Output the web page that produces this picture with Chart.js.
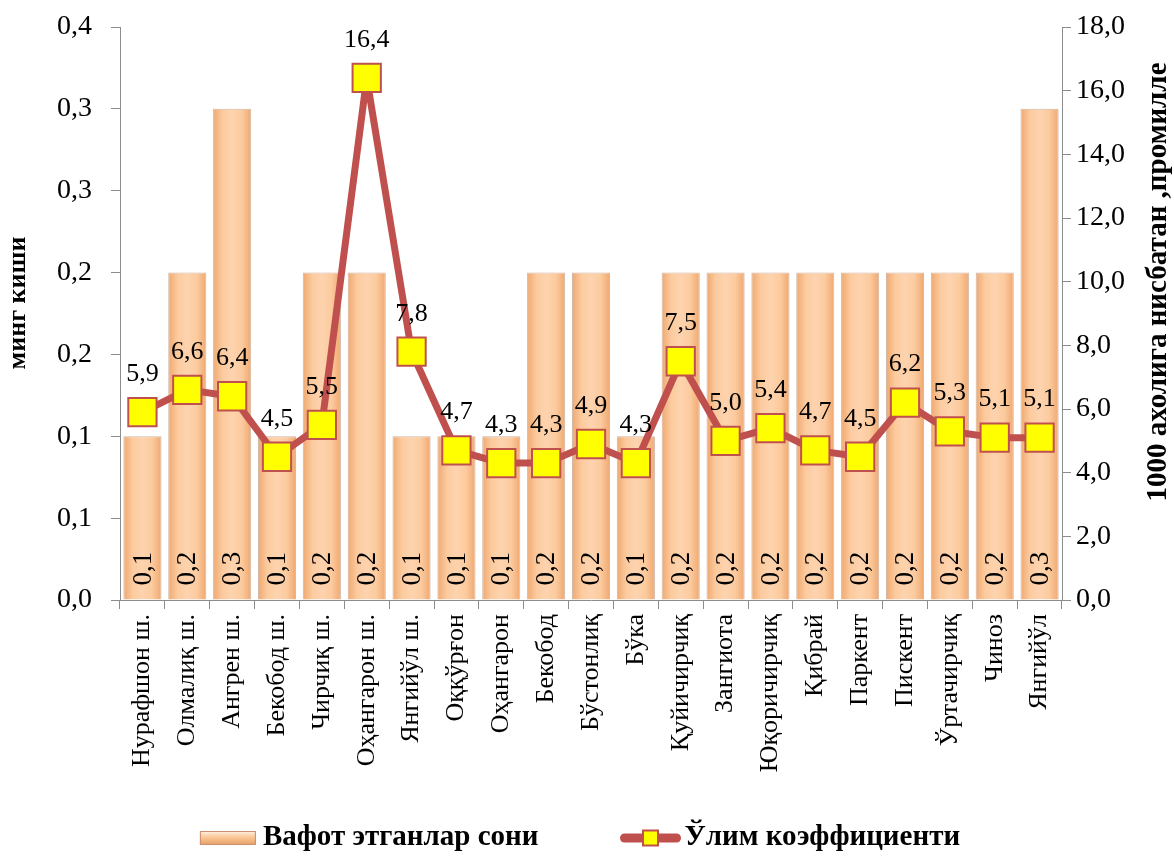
<!DOCTYPE html>
<html>
<head>
<meta charset="utf-8">
<script src="https://cdn.jsdelivr.net/npm/chart.js@4.4.1/dist/chart.umd.min.js"></script>
<style>
  html, body { margin: 0; background: #fff; }
  #wrap { width: 1174px; height: 858px; }
</style>
</head>
<body>
<div id="wrap"><canvas id="chart"></canvas></div>
<script>
const districts = [
  'Нурафшон ш.', 'Олмалиқ ш.', 'Ангрен ш.', 'Бекобод ш.', 'Чирчиқ ш.',
  'Оҳангарон ш.', 'Янгийўл ш.', 'Оққўрғон', 'Оҳангарон', 'Бекобод',
  'Бўстонлиқ', 'Бўка', 'Қуйичирчиқ', 'Зангиота', 'Юқоричирчиқ',
  'Қибрай', 'Паркент', 'Пискент', 'Ўртачирчиқ', 'Чиноз', 'Янгийўл'
];
// вафот этганлар сони, минг киши
const deaths = [0.1, 0.2, 0.3, 0.1, 0.2, 0.2, 0.1, 0.1, 0.1, 0.2, 0.2, 0.1, 0.2, 0.2, 0.2, 0.2, 0.2, 0.2, 0.2, 0.2, 0.3];
// ўлим коэффициенти, промилле
const deathRate = [5.9, 6.6, 6.4, 4.5, 5.5, 16.4, 7.8, 4.7, 4.3, 4.3, 4.9, 4.3, 7.5, 5.0, 5.4, 4.7, 4.5, 6.2, 5.3, 5.1, 5.1];

const leftAxis = { min: 0, max: 0.35, step: 0.05 };
const rightAxis = { min: 0, max: 18, step: 2 };
const seriesNames = ['Вафот этганлар сони', 'Ўлим коэффициенти'];

const SERIF = '"Liberation Serif", "Times New Roman", serif';
const RED = '#C0504D';
const comma = (v, d) => v.toFixed(d).replace('.', ',');

// peach bar gradient across each bar
function barFill(ctx) {
  const chart = ctx.chart;
  const x = chart.scales.x;
  if (!x || ctx.dataIndex === undefined) return '#FAC090';
  const cx = x.getPixelForValue(ctx.dataIndex);
  const w = x.width / districts.length * 0.85;
  if (!isFinite(cx) || !isFinite(w) || w <= 0) return '#FAC090';
  const g = chart.ctx.createLinearGradient(cx - w / 2, 0, cx + w / 2, 0);
  g.addColorStop(0, '#EFA86F');
  g.addColorStop(0.25, '#FCCB9F');
  g.addColorStop(0.5, '#FDD3AE');
  g.addColorStop(0.75, '#FCCB9F');
  g.addColorStop(1, '#EFA86F');
  return g;
}

const valueLabels = {
  id: 'valueLabels',
  afterDatasetsDraw(chart) {
    const ctx = chart.ctx;
    ctx.save();
    ctx.fillStyle = '#000';
    ctx.font = '27px ' + SERIF;
    const bars = chart.getDatasetMeta(1);
    bars.data.forEach((el, i) => {
      ctx.save();
      ctx.translate(el.x, el.base - 14);
      ctx.rotate(-Math.PI / 2);
      ctx.textAlign = 'left';
      ctx.textBaseline = 'middle';
      ctx.fillText(comma(deaths[i], 1), 0, 1);
      ctx.restore();
    });
    const line = chart.getDatasetMeta(0);
    ctx.font = '26px ' + SERIF;
    ctx.textAlign = 'center';
    ctx.textBaseline = 'middle';
    line.data.forEach((el, i) => {
      ctx.fillText(comma(deathRate[i], 1), el.x, el.y - 38);
    });
    ctx.restore();
  }
};

const axisTitles = {
  id: 'axisTitles',
  afterDraw(chart) {
    const ctx = chart.ctx;
    const draw = (text, x, y, size) => {
      ctx.save();
      ctx.fillStyle = '#000';
      ctx.font = 'bold ' + size + 'px ' + SERIF;
      ctx.textAlign = 'center';
      ctx.textBaseline = 'middle';
      ctx.translate(x, y);
      ctx.rotate(-Math.PI / 2);
      ctx.fillText(text, 0, 0);
      ctx.restore();
    };
    draw('минг киши', 18, 303, 26);
    draw('1000 ахолига нисбатан ,промилле', 1159, 282, 29);
  }
};

// bottom legend: bar swatch and line-with-marker swatch
const bottomLegend = {
  id: 'bottomLegend',
  afterDraw(chart) {
    const ctx = chart.ctx;
    ctx.save();
    ctx.font = 'bold 29px ' + SERIF;
    const w1 = ctx.measureText(seriesNames[0]).width;
    const w2 = ctx.measureText(seriesNames[1]).width;
    const total = 56 + 7 + w1 + 82 + 60 + 4 + w2;
    let x = 580 - total / 2;
    const y = chart.height - 20;

    const gr = ctx.createLinearGradient(0, y - 7, 0, y + 7);
    gr.addColorStop(0, '#FFF3E4');
    gr.addColorStop(0.4, '#FBCB9C');
    gr.addColorStop(1, '#E79E65');
    ctx.fillStyle = gr;
    ctx.fillRect(x, y - 7, 56, 14);
    ctx.strokeStyle = '#C89070';
    ctx.lineWidth = 1;
    ctx.strokeRect(x + 0.5, y - 6.5, 55, 13);
    x += 63;
    ctx.fillStyle = '#000';
    ctx.textAlign = 'left';
    ctx.textBaseline = 'middle';
    ctx.fillText(seriesNames[0], x, y);
    x += w1 + 82;

    ctx.strokeStyle = RED;
    ctx.lineWidth = 9;
    ctx.lineCap = 'round';
    ctx.beginPath(); ctx.moveTo(x + 4, y); ctx.lineTo(x + 56, y); ctx.stroke();
    ctx.fillStyle = '#FFFF00';
    ctx.fillRect(x + 22.5, y - 7.5, 15, 15);
    ctx.lineWidth = 2;
    ctx.strokeRect(x + 22.5, y - 7.5, 15, 15);
    x += 64;
    ctx.fillStyle = '#000';
    ctx.fillText(seriesNames[1], x, y);
    ctx.restore();
  }
};

new Chart(document.getElementById('chart'), {
  data: {
    labels: districts,
    datasets: [
      {
        type: 'line',
        label: seriesNames[1],
        data: deathRate,
        yAxisID: 'y1',
        order: 0,
        borderColor: RED,
        borderWidth: 7,
        borderJoinStyle: 'round',
        tension: 0,
        pointStyle: 'rect',
        pointRadius: 20,
        pointHoverRadius: 20,
        pointBackgroundColor: '#FFFF00',
        pointBorderColor: RED,
        pointBorderWidth: 2
      },
      {
        type: 'bar',
        label: seriesNames[0],
        data: deaths,
        yAxisID: 'y',
        order: 1,
        backgroundColor: barFill,
        borderColor: 'rgba(170,120,90,0.55)',
        borderWidth: 1,
        categoryPercentage: 0.85,
        barPercentage: 1
      }
    ]
  },
  options: {
    responsive: true,
    maintainAspectRatio: false,
    animation: false,
    layout: { padding: { top: 0, left: 0, right: 0, bottom: 58 } },
    plugins: {
      tooltip: { enabled: false },
      legend: { display: false }
    },
    scales: {
      x: {
        grid: { display: true, drawOnChartArea: false, offset: true, tickLength: 9, color: '#8C8C8C' },
        border: { color: '#8C8C8C' },
        ticks: {
          color: '#000',
          font: { family: SERIF, size: 26 },
          minRotation: 90,
          maxRotation: 90,
          autoSkip: false,
          padding: 5
        },
        afterFit(scale) { scale.height = 200; }
      },
      y: {
        position: 'left',
        min: leftAxis.min,
        max: leftAxis.max,
        grid: { display: true, drawOnChartArea: false, tickLength: 9, color: '#8C8C8C' },
        border: { color: '#8C8C8C' },
        ticks: {
          stepSize: leftAxis.step,
          color: '#000',
          font: { family: SERIF, size: 28 },
          padding: 19,
          callback: v => (Math.round(v * 10 + 1e-6) / 10).toFixed(1).replace('.', ',')
        },
        afterFit(scale) { scale.width = 120; scale.paddingTop = 27; }
      },
      y1: {
        position: 'right',
        min: rightAxis.min,
        max: rightAxis.max,
        grid: { display: true, drawOnChartArea: false, tickLength: 9, color: '#8C8C8C' },
        border: { color: '#8C8C8C' },
        ticks: {
          stepSize: rightAxis.step,
          color: '#000',
          font: { family: SERIF, size: 28 },
          padding: 5,
          callback: v => comma(v, 1)
        },
        afterFit(scale) { scale.width = 112; scale.paddingTop = 27; }
      }
    }
  },
  plugins: [valueLabels, axisTitles, bottomLegend]
});
</script>
</body>
</html>
